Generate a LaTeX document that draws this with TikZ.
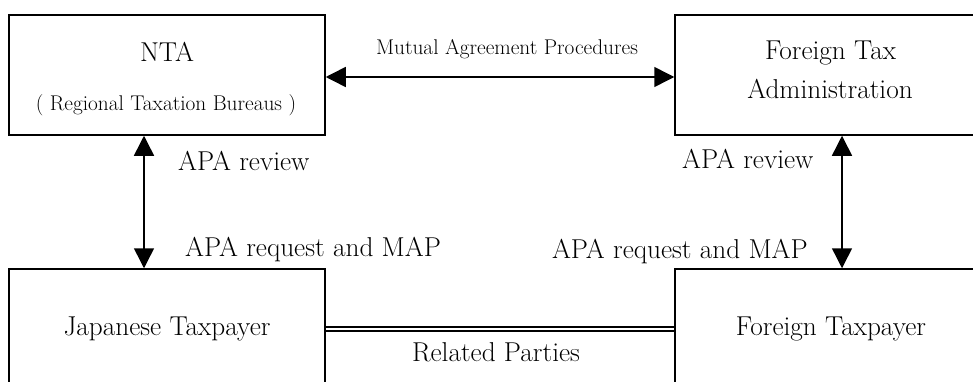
\documentclass[tikz,border=0pt]{standalone}
\usepackage{fontspec}
\usetikzlibrary{arrows.meta}
\tikzset{
  box/.style={draw, line width=1.5pt, minimum width=316pt, minimum height=120pt, inner sep=0pt},
  big/.style={font=\fontsize{27.3}{32}\selectfont, inner sep=0pt},
  small/.style={font=\fontsize{21.3}{25}\selectfont, inner sep=0pt},
  link/.style={line width=1.5pt, {Triangle[length=20pt,width=20pt]}-{Triangle[length=20pt,width=20pt]}},
  rel/.style={double, line width=2pt, double distance=2pt},
}
\begin{document}
\begin{tikzpicture}[x=1pt,y=1pt]
\useasboundingbox (0,0) rectangle (973,381);
\clip (0,0) rectangle (973,381);
\node[box] (nta) at (167,306) {};
\node[box] (fta) at (833,306) {};
\node[box] (jtp) at (167,52) {};
\node[box] (ftp) at (833,52) {};
\node[big, anchor=base] (ntaA) at (167,319.3) {NTA};
\node[small, anchor=base] (ntaB) at (166,271) {( Regional Taxation Bureaus )};
\node[big, anchor=base] (ftaA) at (830.5,321) {Foreign Tax};
\node[big, anchor=base] (ftaB) at (830,282.7) {Administration};
\node[big, anchor=base] (jtpT) at (167,46) {Japanese Taxpayer};
\node[big, anchor=base] (ftpT) at (831,46) {Foreign Taxpayer};
\draw[link] ([yshift=-2pt]nta.east) -- ([yshift=-2pt]fta.west);
\node[small, anchor=base] (mapL) at (507,326) {Mutual Agreement Procedures};
\draw[link] ([xshift=-23pt]nta.south) -- ([xshift=-23pt]jtp.north);
\draw[link] ([xshift=9pt]fta.south) -- ([xshift=9pt]ftp.north);
\node[big, anchor=base west] (revL) at (178,211) {APA review};
\node[big, anchor=base west] (reqL) at (185,125) {APA request and MAP};
\node[big, anchor=base west] (revR) at (682,213) {APA review};
\node[big, anchor=base east] (reqR) at (808,123) {APA request and MAP};
\draw[rel] (jtp.east) -- (ftp.west);
\node[big, anchor=base] (relL) at (496,19.3) {Related Parties};
\end{tikzpicture}
\end{document}
